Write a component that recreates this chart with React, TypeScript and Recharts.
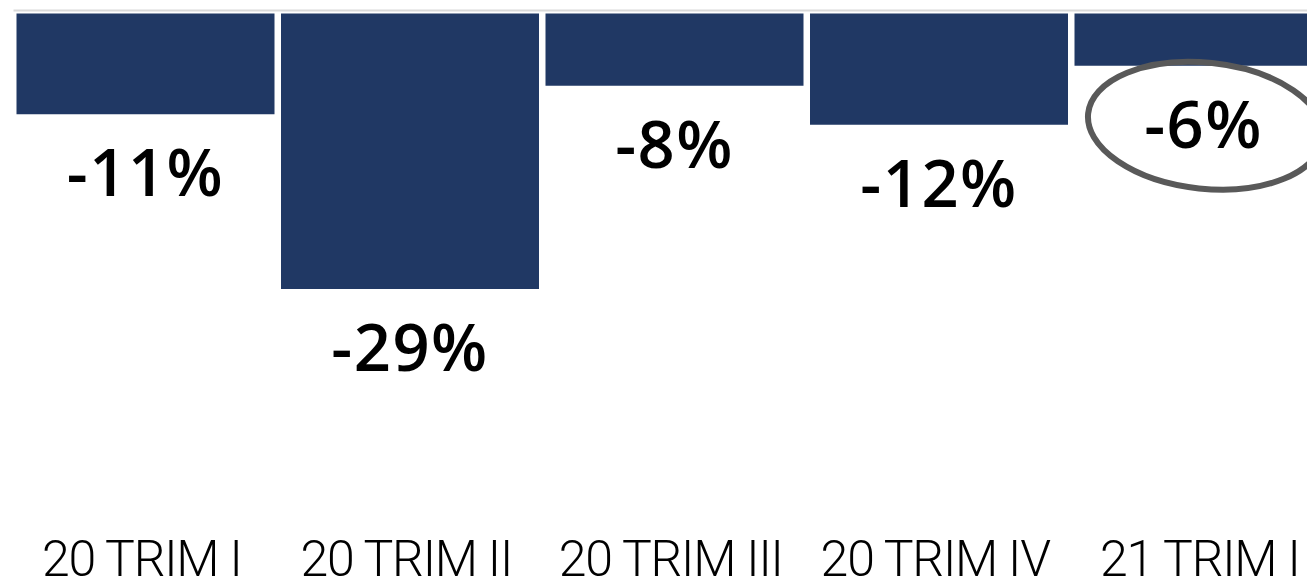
import { BarChart, Bar, XAxis, YAxis, LabelList, ReferenceLine } from "recharts";

const categories = ["20 TRIM I", "20 TRIM II", "20 TRIM III", "20 TRIM IV", "21 TRIM I"];
const changes = [-10.6, -29, -7.6, -11.7, -5.5];
const labels = ["-11%", "-29%", "-8%", "-12%", "-6%"];
const highlighted = 4;

const data = categories.map((name, i) => ({ name, value: changes[i], label: labels[i] }));

const BAR = "#203864";

const ValueLabel = (props: any) => {
  const { x, y, width, height, index } = props;
  const bottom = Math.max(y, y + height);
  const cx = x + width / 2;
  const base = bottom + 82;
  return (
    <g>
      {index === highlighted && (
        <ellipse
          cx={cx + 2}
          cy={base - 22}
          rx={118}
          ry={63}
          fill="none"
          stroke="#595959"
          strokeWidth={6}
          transform={`rotate(6 ${cx + 2} ${base - 22})`}
        />
      )}
      <text
        x={cx}
        y={base}
        textAnchor="middle"
        fill="#000"
        style={{ fontFamily: "'Open Sans', sans-serif", fontWeight: 600, fontSize: 65, letterSpacing: 1.5 }}
      >
        {labels[index]}
      </text>
    </g>
  );
};

const CategoryTick = (props: any) => {
  const { x, y, payload } = props;
  return (
    <text
      x={x - 4}
      y={y + 79}
      textAnchor="middle"
      fill="#000"
      style={{ fontFamily: "Roboto, sans-serif", fontWeight: 300, fontSize: 50, letterSpacing: -1.2 }}
    >
      {payload.value}
    </text>
  );
};

const TopLine = (props: any) => {
  const { x1, x2, y1 } = props;
  return <line x1={x1} x2={x2 + 40} y1={y1 - 3} y2={y1 - 3} stroke="#d9d9d9" strokeWidth={2} />;
};

export default function App() {
  return (
    <div style={{ position: "absolute", left: 0, top: 0, width: 1307, height: 578, overflow: "hidden", background: "#fff" }}>
      <BarChart
        width={1340}
        height={600}
        data={data}
        margin={{ top: 13.5, right: 4, bottom: 11.5, left: 13.5 }}
      >
        <YAxis hide domain={[-50, 0]} />
        <XAxis dataKey="name" axisLine={false} tickLine={false} height={100} tick={<CategoryTick />} interval={0} />
        <ReferenceLine y={0} shape={<TopLine />} />
        <Bar dataKey="value" fill={BAR} barSize={258} isAnimationActive={false}>
          <LabelList dataKey="label" content={<ValueLabel />} />
        </Bar>
      </BarChart>
    </div>
  );
}
